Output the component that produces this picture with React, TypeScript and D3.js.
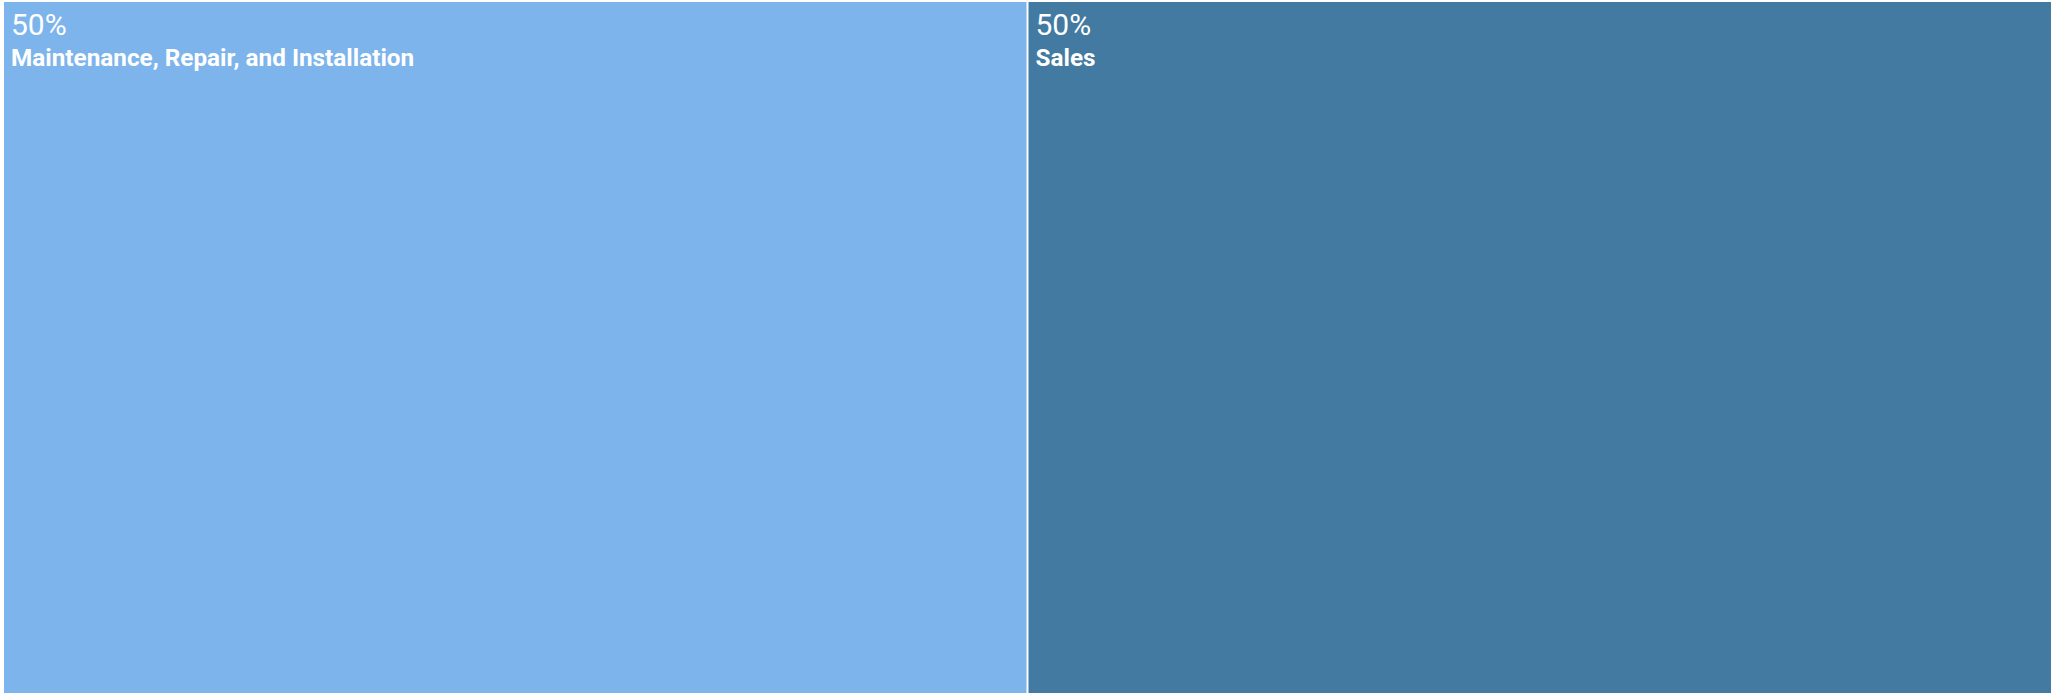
import React from "react";
import * as d3 from "d3";

const categories = ["Maintenance, Repair, and Installation", "Sales"];
const values = [50, 50];
const colors = ["#7cb4eb", "#437aa1"];

const W = 2063;
const H = 693;

export default function App() {
  const total = d3.sum(values);
  const root = d3
    .hierarchy({ name: "root", children: categories.map((c, i) => ({ name: c, value: values[i], idx: i })) } as any)
    .sum((d: any) => d.value || 0);
  d3.treemap().tile(d3.treemapSquarify).size([2047, 692]).paddingInner(2).round(false)(root as any);
  const pct = d3.format(".0%");
  const leaves = root.leaves() as any[];
  return (
    <svg
      width={W}
      height={H}
      style={{ position: "absolute", left: 0, top: 0, background: "#ffffff" }}
    >
      <g transform="translate(4,2)">
        {leaves.map((d) => (
          <g key={d.data.name} transform={`translate(${d.x0},${d.y0})`}>
            <rect width={d.x1 - d.x0} height={d.y1 - d.y0} fill={colors[d.data.idx]} />
            <text x={7} y={32.5} fill="#ffffff" fontFamily="Roboto, sans-serif" fontSize={30}>
              {pct(d.value / total)}
            </text>
            <text x={7} y={63.5} fill="#ffffff" fontFamily="Roboto, sans-serif" fontSize={24.3} fontWeight="bold">
              {d.data.name}
            </text>
          </g>
        ))}
      </g>
    </svg>
  );
}
